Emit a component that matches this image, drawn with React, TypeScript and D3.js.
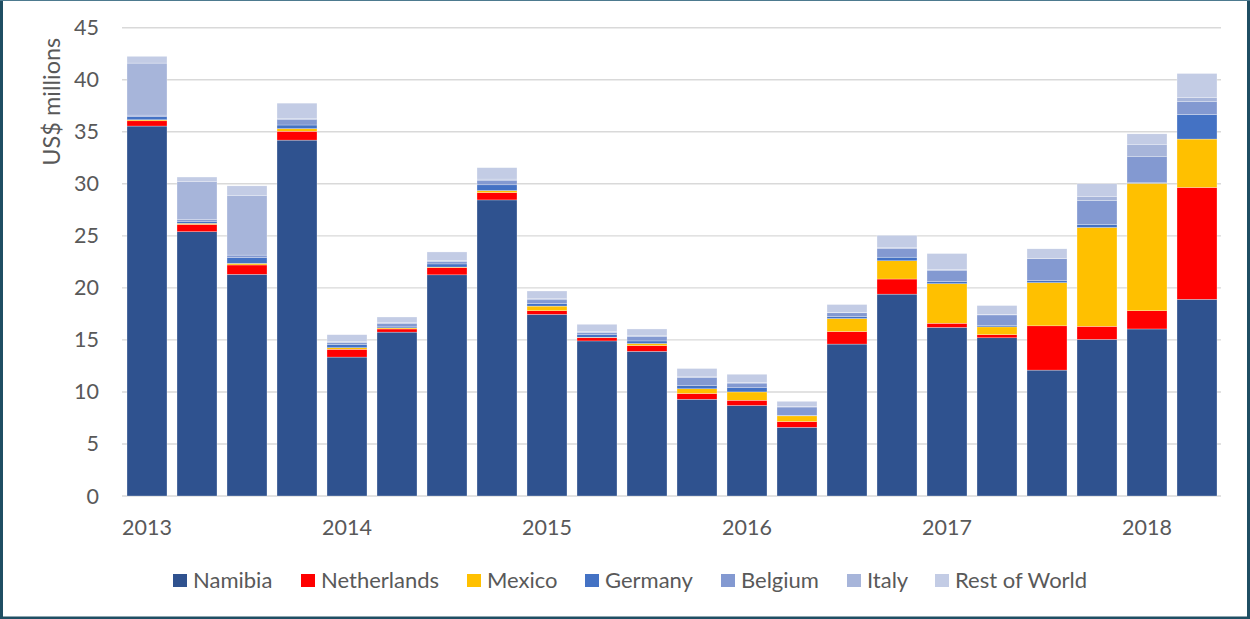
import React from "react";
import * as d3 from "d3";

const quarters = [
  "2013 Q1","2013 Q2","2013 Q3","2013 Q4",
  "2014 Q1","2014 Q2","2014 Q3","2014 Q4",
  "2015 Q1","2015 Q2","2015 Q3","2015 Q4",
  "2016 Q1","2016 Q2","2016 Q3","2016 Q4",
  "2017 Q1","2017 Q2","2017 Q3","2017 Q4",
  "2018 Q1","2018 Q2",
];

const namibia = [35.55, 25.4, 21.3, 34.2, 13.35, 15.75, 21.25, 28.45, 17.45, 14.9, 13.9, 9.3, 8.7, 6.6, 14.6, 19.4, 16.2, 15.2, 12.1, 15.05, 16.05, 18.9];
const netherlands = [0.5, 0.7, 0.9, 0.85, 0.75, 0.3, 0.7, 0.7, 0.35, 0.3, 0.55, 0.55, 0.5, 0.55, 1.2, 1.45, 0.4, 0.3, 4.25, 1.25, 1.75, 10.75];
const mexico = [0.1, 0.1, 0.15, 0.25, 0.15, 0.1, 0.05, 0.2, 0.45, 0.05, 0.2, 0.45, 0.8, 0.55, 1.25, 1.75, 3.8, 0.75, 4.15, 9.5, 12.25, 4.65];
const germany = [0.3, 0.15, 0.55, 0.35, 0.3, 0.1, 0.3, 0.55, 0.25, 0.25, 0.25, 0.3, 0.4, 0.05, 0.2, 0.35, 0.2, 0.15, 0.2, 0.3, 0.05, 2.35];
const belgium = [0.15, 0.2, 0.25, 0.5, 0.2, 0.3, 0.25, 0.45, 0.35, 0.2, 0.45, 0.8, 0.45, 0.8, 0.35, 0.85, 1.1, 1.0, 2.1, 2.3, 2.5, 1.25];
const italy = [5.0, 3.65, 5.7, 0.15, 0.1, 0.1, 0.1, 0.1, 0.1, 0.1, 0.1, 0.05, 0.05, 0.05, 0.05, 0.05, 0.05, 0.05, 0.05, 0.4, 1.2, 0.4];
const restOfWorld = [0.65, 0.45, 0.95, 1.45, 0.65, 0.55, 0.8, 1.1, 0.75, 0.7, 0.6, 0.8, 0.8, 0.5, 0.75, 1.2, 1.55, 0.85, 0.9, 1.2, 1.0, 2.3];

const seriesNames = ["Namibia", "Netherlands", "Mexico", "Germany", "Belgium", "Italy", "Rest of World"];
const seriesValues = [namibia, netherlands, mexico, germany, belgium, italy, restOfWorld];
const seriesColors = ["#2F528F", "#FF0000", "#FFC000", "#4472C4", "#8399D1", "#A7B5DA", "#C3CCE5"];

const yTicks = [0, 5, 10, 15, 20, 25, 30, 35, 40, 45];
const yearLabels = ["2013", "2014", "2015", "2016", "2017", "2018"];
const yAxisTitle = "US$ millions";

const W = 1250;
const H = 619;
const FONT = "Lato, 'Open Sans', sans-serif";
const TEXT = "#595959";

export default function App() {
  const x = d3.scaleBand<string>().domain(quarters).range([122, 1222]).paddingInner(0.2).paddingOuter(0.1);
  const y = d3.scaleLinear().domain([0, 45]).range([496, 27.7]);

  const table = quarters.map((q, i) => {
    const row: Record<string, any> = { q };
    seriesNames.forEach((n, s) => (row[n] = seriesValues[s][i]));
    return row;
  });
  const stacked = d3.stack<any>().keys(seriesNames)(table);

  const legendX = [173, 301, 467, 585, 721, 847, 935];

  return (
    <svg width={W} height={H} style={{ position: "fixed", left: 0, top: 0, background: "#fff" }} fontFamily={FONT}>
      <rect x={0} y={0} width={W} height={H} fill="#fff" />
      {/* gridlines */}
      {yTicks.map((t) => (
        <line key={t} x1={122} x2={1221} y1={y(t)} y2={y(t)} stroke="#D9D9D9" strokeWidth={1.4} />
      ))}
      {/* bars */}
      {stacked.map((layer, s) => (
        <g key={seriesNames[s]} fill={seriesColors[s]}>
          {layer.map((d, i) => (
            <rect
              key={i}
              x={x(quarters[i])}
              y={y(d[1])}
              width={x.bandwidth()}
              height={Math.max(0, y(d[0]) - y(d[1]))}
              stroke="#ffffff"
              strokeWidth={0.4}
              strokeOpacity={0.7}
            />
          ))}
        </g>
      ))}
      {/* y tick labels */}
      {yTicks.map((t) => (
        <text key={t} x={99} y={y(t)} dy="0.35em" textAnchor="end" fontSize={21.5} fill={TEXT}>
          {t}
        </text>
      ))}
      {/* x labels */}
      {yearLabels.map((yr) => {
        const q = yr + " Q1";
        return (
          <text key={yr} x={(x(q) as number) + x.bandwidth() / 2} y={535} textAnchor="middle" fontSize={21.5} fill={TEXT}>
            {yr}
          </text>
        );
      })}
      {/* y axis title */}
      <text transform={`translate(60,101.7) rotate(-90)`} textAnchor="middle" fontSize={23.5} fill={TEXT}>
        {yAxisTitle}
      </text>
      {/* legend */}
      {seriesNames.map((n, s) => (
        <g key={n}>
          <rect x={legendX[s]} y={574} width={14} height={13} fill={seriesColors[s]} />
          <text x={legendX[s] + 20} y={588} fontSize={22} fill={TEXT}>
            {n}
          </text>
        </g>
      ))}
      {/* frame */}
      <rect x={1.5} y={0.5} width={W - 3} height={H - 2} fill="none" stroke="#1F4E63" strokeWidth={1} />
      <rect x={0} y={0} width={3} height={H} fill="#1F4E63" />
      <rect x={W - 3} y={0} width={3} height={H} fill="#1F4E63" />
      <rect x={0} y={H - 2.5} width={W} height={2.5} fill="#1F4E63" />
      <rect x={0} y={0} width={W} height={1} fill="#4D7A8F" />
    </svg>
  );
}
